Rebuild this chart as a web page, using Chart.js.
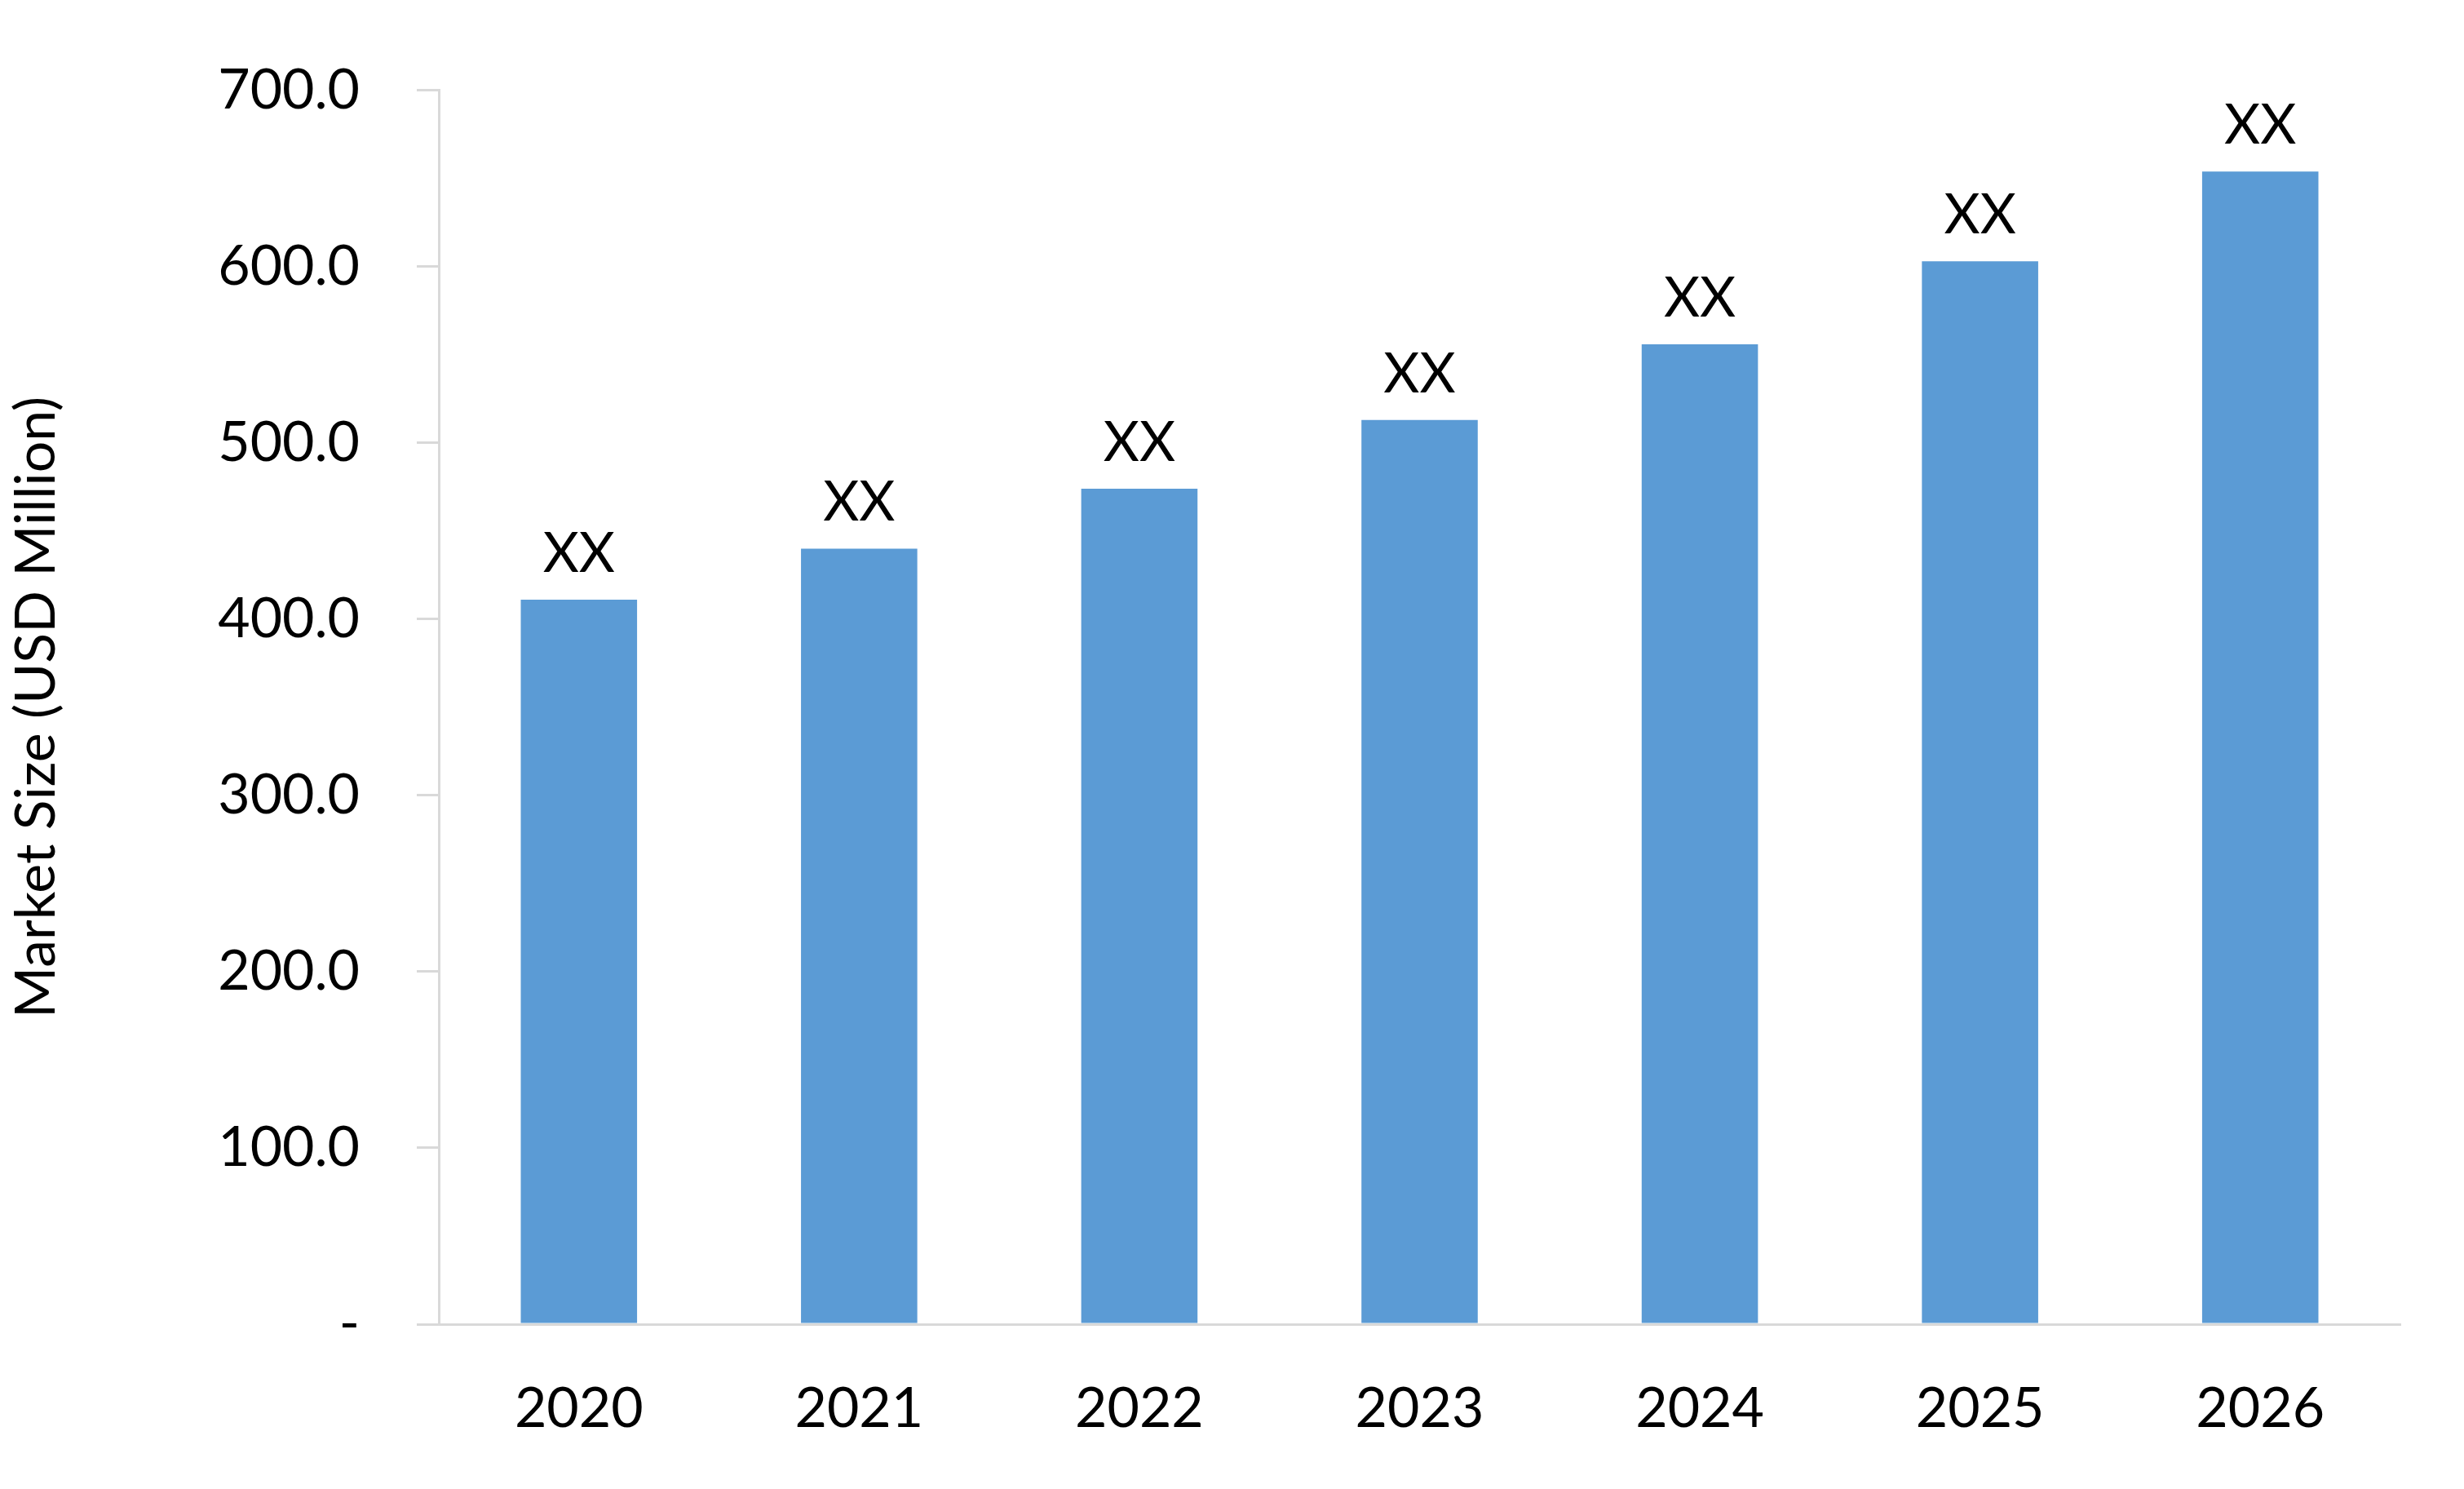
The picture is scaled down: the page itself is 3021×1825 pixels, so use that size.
<!DOCTYPE html>
<html>
<head>
<meta charset="utf-8">
<script src="https://cdn.jsdelivr.net/npm/chart.js@4"></script>
<style>
html,body{margin:0;padding:0;background:#fff;}
</style>
</head>
<body>
<canvas id="chart" width="3021" height="1825"></canvas>
<script>
const years = ["2020","2021","2022","2023","2024","2025","2026"];
const marketSize = [411, 440, 474, 513, 556, 603, 654];
const barLabels = ["XX","XX","XX","XX","XX","XX","XX"];
const yTicks = [0,100,200,300,400,500,600,700];

const FONT = "Lato, 'Open Sans', sans-serif";

// draw "XX" above each bar
const topLabels = {
  id: "topLabels",
  afterDatasetsDraw(chart) {
    const ctx = chart.ctx;
    const meta = chart.getDatasetMeta(0);
    ctx.save();
    ctx.font = "68px " + FONT;
    ctx.fillStyle = "#000";
    ctx.textAlign = "center";
    ctx.textBaseline = "bottom";
    meta.data.forEach((bar, i) => {
      ctx.fillText(barLabels[i], bar.x, bar.y - 22);
    });
    ctx.restore();
  }
};

new Chart(document.getElementById("chart"), {
  type: "bar",
  data: {
    labels: years,
    datasets: [{
      data: marketSize,
      backgroundColor: "#5b9bd5",
      categoryPercentage: 1,
      barPercentage: 0.415
    }]
  },
  options: {
    responsive: false,
    animation: false,
    layout: { padding: { top: 93, right: 78 } },
    plugins: { legend: { display: false }, tooltip: { enabled: false } },
    scales: {
      x: {
        grid: { display: false },
        border: { color: "#d9d9d9", width: 3 },
        ticks: { color: "#000", font: { family: FONT, size: 68 }, padding: 55 },
        afterFit(s) { s.height = 202; }
      },
      y: {
        min: 0, max: 700,
        afterBuildTicks(s) { s.ticks = yTicks.map(v => ({ value: v })); },
        grid: { drawOnChartArea: false, color: "#d9d9d9", lineWidth: 3, tickLength: 27 },
        border: { color: "#d9d9d9", width: 3 },
        ticks: {
          color: "#000",
          font: { family: FONT, size: 68 },
          padding: 70,
          callback: v => v === 0 ? "-" : v.toFixed(1)
        },
        title: {
          display: true,
          text: "Market Size (USD Million)",
          color: "#000",
          font: { family: FONT, size: 68 },
          padding: { bottom: 20 }
        },
        afterFit(s) { s.width = 538; }
      }
    }
  },
  plugins: [topLabels]
});
</script>
</body>
</html>
